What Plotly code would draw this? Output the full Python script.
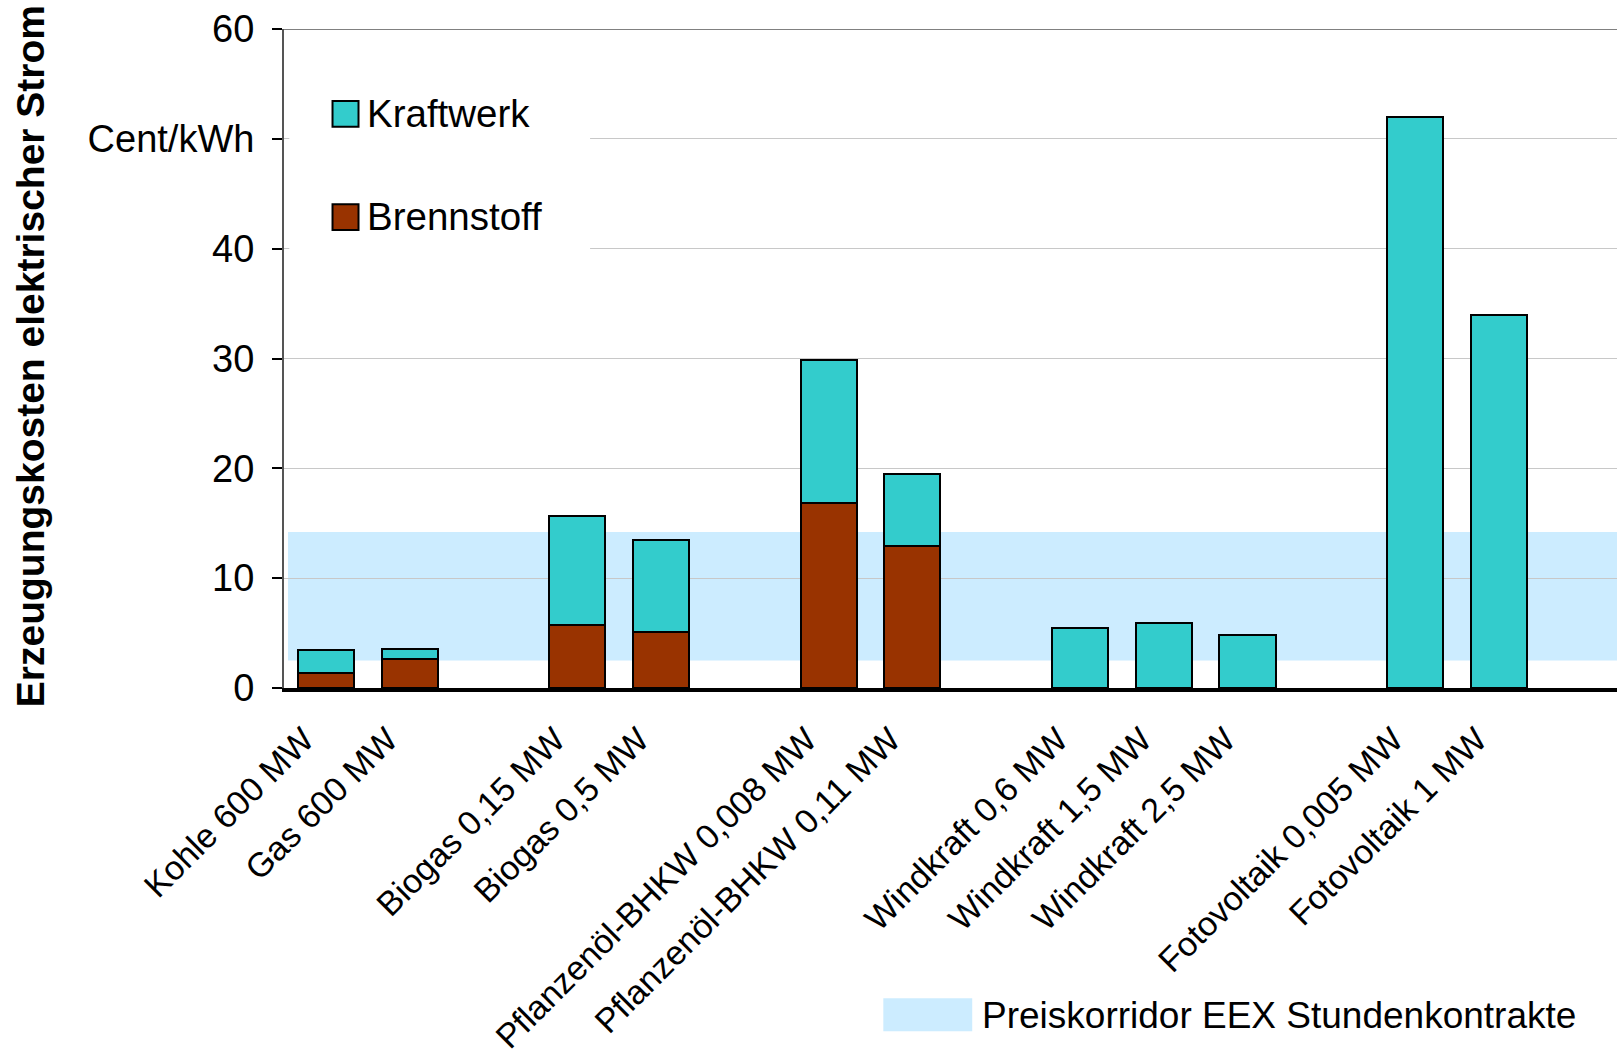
import plotly.graph_objects as go

# Power plant types, grouped by technology (a blank slot separates the groups)
groups = [
    ["Kohle 600 MW", "Gas 600 MW"],
    ["Biogas 0,15 MW", "Biogas 0,5 MW"],
    ["Pflanzenöl-BHKW 0,008 MW", "Pflanzenöl-BHKW 0,11 MW"],
    ["Windkraft 0,6 MW", "Windkraft 1,5 MW", "Windkraft 2,5 MW"],
    ["Fotovoltaik 0,005 MW", "Fotovoltaik 1 MW"],
]

# Cost components in Cent/kWh
brennstoff = [1.35, 2.65, 5.7, 5.1, 16.85, 12.95, None, None, None, None, None]
kraftwerk = [2.15, 0.9, 10.0, 8.35, 13.05, 6.5, 5.5, 5.9, 4.8, 52.0, 34.0]

# EEX hourly contracts price corridor (Cent/kWh)
korridor_min = 2.5
korridor_max = 14.2

y_tickvals = [0, 10, 20, 30, 40, 50, 60]
y_ticktext = ["0", "10", "20", "30", "40", "Cent/kWh", "60"]

# slot positions: consecutive within a group, one empty slot between groups
labels, xpos = [], []
slot = 0
for g in groups:
    for name in g:
        labels.append(name)
        xpos.append(slot)
        slot += 1
    slot += 1

FONT = "Liberation Sans, Arial, sans-serif"
C_KRAFT = "#33CCCC"
C_BRENN = "#993300"
C_BAND = "#CCECFF"

fig = go.Figure()
fig.add_trace(go.Bar(
    x=xpos, y=brennstoff, name="Brennstoff", width=0.67,
    marker=dict(color=C_BRENN, line=dict(color="black", width=2)),
))
fig.add_trace(go.Bar(
    x=xpos, y=kraftwerk, name="Kraftwerk", width=0.67,
    marker=dict(color=C_KRAFT, line=dict(color="black", width=2)),
))

shapes = [
    # price corridor band beneath the grid
    dict(type="rect", xref="x domain", yref="y", x0=0.003, x1=1,
         y0=korridor_min, y1=korridor_max, fillcolor=C_BAND,
         line=dict(width=0), layer="below"),
    # top frame line
    dict(type="line", xref="x domain", yref="y", x0=0, x1=1, y0=60, y1=60,
         line=dict(color="#808080", width=2)),
    # white background of the in-plot legend
    dict(type="rect", xref="x domain", yref="y", x0=0.004, x1=0.2296,
         y0=38.2, y1=57.5, fillcolor="white", line=dict(width=0),
         layer="above"),
    # legend swatches
    dict(type="rect", xref="paper", yref="y", x0=0.0364, x1=0.0559,
         y0=51.1, y1=53.45, fillcolor=C_KRAFT,
         line=dict(color="black", width=2), layer="above"),
    dict(type="rect", xref="paper", yref="y", x0=0.0364, x1=0.0559,
         y0=41.7, y1=44.05, fillcolor=C_BRENN,
         line=dict(color="black", width=2), layer="above"),
    # corridor legend swatch below the chart
    dict(type="rect", xref="paper", yref="paper", x0=0.4496, x1=0.5163,
         y0=-0.5209, y1=-0.4708, fillcolor=C_BAND, line=dict(width=0),
         layer="above"),
]

annotations = [
    dict(text="Kraftwerk", xref="paper", yref="y", x=0.061, y=52.3,
         xanchor="left", yanchor="middle", showarrow=False,
         font=dict(size=38.5, color="black", family=FONT)),
    dict(text="Brennstoff", xref="paper", yref="y", x=0.061, y=42.9,
         xanchor="left", yanchor="middle", showarrow=False,
         font=dict(size=38.5, color="black", family=FONT)),
    dict(text="Preiskorridor EEX Stundenkontrakte", xref="paper", yref="paper",
         x=0.5223, y=-0.4966, xanchor="left", yanchor="middle",
         showarrow=False, font=dict(size=37, color="black", family=FONT)),
    dict(text="<b>Erzeugungskosten elektrischer Strom</b>", xref="paper",
         yref="paper", x=-0.1905, y=0.5036, textangle=-90,
         xanchor="center", yanchor="middle", showarrow=False,
         font=dict(size=39, color="black", family=FONT)),
]

fig.update_layout(
    width=1617, height=1051,
    margin=dict(l=283.5, r=0, t=29, b=363),
    paper_bgcolor="white", plot_bgcolor="rgba(0,0,0,0)",
    barmode="stack", bargap=0, showlegend=False,
    font=dict(family=FONT, size=37, color="black"),
    shapes=shapes, annotations=annotations,
)
fig.update_xaxes(
    range=[-0.5, 15.41], tickvals=xpos, ticktext=labels, tickangle=-45,
    tickfont=dict(size=34, family=FONT, color="black"),
    ticklabelshift=-22, ticklabelstandoff=14, automargin=False,
    showline=True, linecolor="black", linewidth=4, showgrid=False,
    zeroline=False, ticks="",
)
fig.update_yaxes(
    range=[0, 60], tickvals=y_tickvals, ticktext=y_ticktext,
    tickfont=dict(size=38, family=FONT, color="black"),
    ticklabelstandoff=10, automargin=False,
    showline=True, linecolor="#555555", linewidth=2,
    ticks="outside", ticklen=10, tickwidth=2, tickcolor="black",
    showgrid=True, gridcolor="#C8C8C8", gridwidth=1, zeroline=False,
)

fig.write_html("out.html")
